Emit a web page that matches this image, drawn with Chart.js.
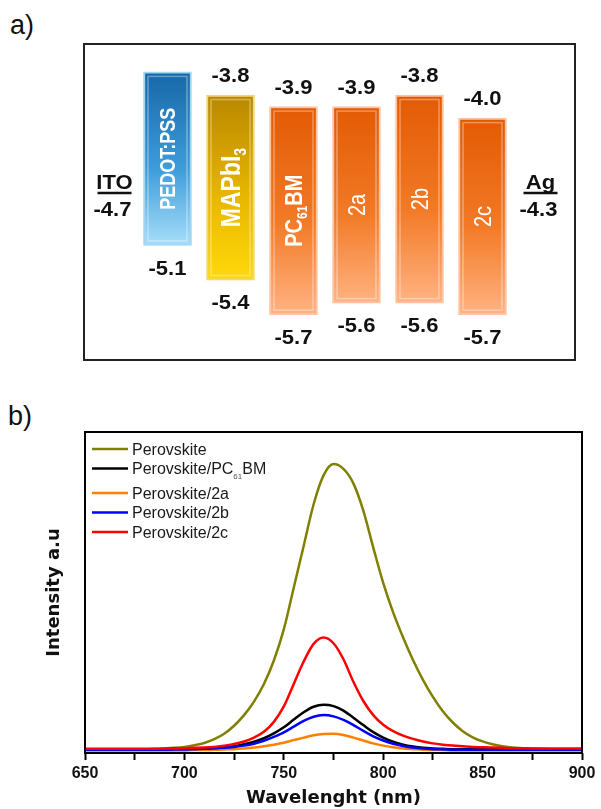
<!DOCTYPE html>
<html>
<head>
<meta charset="utf-8">
<script src="https://cdn.jsdelivr.net/npm/chart.js@4.4.1/dist/chart.umd.min.js"></script>
<style>
  html, body { margin: 0; padding: 0; background: #fff; width: 601px; height: 809px; overflow: hidden;
               font-family: "Liberation Sans", Arial, sans-serif; }
  .tag   { position: absolute; font-size: 27px; color: #111; line-height: 1; }
  #tagA  { left: 10px; top: 12px; }
  #tagB  { left: 8px;  top: 403px; }
  #boxA  { position: absolute; left: 83px; top: 43px; width: 493px; height: 318px;
           border: 2.5px solid #222; box-sizing: border-box; }
  #levels { position: absolute; left: 73px; top: 43px; }
  #pl     { position: absolute; left: 0; top: 425px; }
</style>
</head>
<body>
<div class="tag" id="tagA">a)</div>
<div id="boxA"></div>
<canvas id="levels" width="504" height="318"></canvas>
<div class="tag" id="tagB">b)</div>
<canvas id="pl" width="601" height="384"></canvas>

<script>
// ═══════════════════════════════════════════════════════
// DATA — panel a: energy levels (eV)
// ═══════════════════════════════════════════════════════
const layers      = ['ITO', 'PEDOT:PSS', 'MAPbI_{3}', 'PC_{61}BM', '2a', '2b', '2c', 'Ag'];
const levelTop    = [null, -3.6, -3.8, -3.9, -3.9, -3.8, -4.0, null];
const levelBottom = [null, -5.1, -5.4, -5.7, -5.6, -5.6, -5.7, null];
const showTop     = [false, false, true, true, true, true, true, false];  // PEDOT:PSS top is not labelled
const workFn      = [-4.7, null, null, null, null, null, null, -4.3];

// ═══════════════════════════════════════════════════════
// DATA — panel b: PL spectra
// ═══════════════════════════════════════════════════════
const wavelength = [650, 655, 660, 665, 670, 675, 680, 685, 690, 695, 700, 705, 710, 715, 720, 725, 730,
  735, 740, 745, 750, 755, 760, 765, 770, 775, 780, 785, 790, 795, 800, 805, 810, 815, 820, 825, 830,
  835, 840, 845, 850, 855, 860, 865, 870, 875, 880, 885, 890, 895, 900];

const perovskite = [0.012, 0.012, 0.012, 0.012, 0.012, 0.012, 0.012, 0.013, 0.014, 0.016, 0.019, 0.024,
  0.031, 0.043, 0.060, 0.085, 0.118, 0.160, 0.215, 0.288, 0.385, 0.515, 0.645, 0.775, 0.865, 0.900,
  0.885, 0.840, 0.755, 0.640, 0.530, 0.438, 0.360, 0.290, 0.228, 0.175, 0.130, 0.095, 0.068, 0.049,
  0.036, 0.027, 0.021, 0.017, 0.015, 0.014, 0.013, 0.012, 0.012, 0.012, 0.012];

const withPCBM = [0.012, 0.012, 0.012, 0.012, 0.012, 0.012, 0.012, 0.012, 0.012, 0.013, 0.013, 0.014,
  0.015, 0.016, 0.018, 0.021, 0.027, 0.035, 0.046, 0.061, 0.080, 0.104, 0.127, 0.144, 0.150, 0.146,
  0.132, 0.110, 0.087, 0.065, 0.048, 0.035, 0.026, 0.020, 0.016, 0.014, 0.013, 0.012, 0.012, 0.012,
  0.012, 0.012, 0.012, 0.012, 0.012, 0.012, 0.012, 0.012, 0.012, 0.012, 0.012];

const with2a = [0.008, 0.008, 0.008, 0.008, 0.008, 0.008, 0.008, 0.008, 0.008, 0.008, 0.008, 0.009,
  0.009, 0.010, 0.011, 0.012, 0.014, 0.017, 0.021, 0.026, 0.032, 0.040, 0.048, 0.055, 0.059, 0.060,
  0.056, 0.048, 0.039, 0.030, 0.023, 0.018, 0.014, 0.012, 0.010, 0.009, 0.009, 0.008, 0.008, 0.008,
  0.008, 0.008, 0.008, 0.008, 0.008, 0.008, 0.008, 0.008, 0.008, 0.008, 0.008];

const with2b = [0.010, 0.010, 0.010, 0.010, 0.010, 0.010, 0.010, 0.010, 0.010, 0.011, 0.011, 0.012,
  0.013, 0.014, 0.016, 0.019, 0.023, 0.029, 0.038, 0.050, 0.064, 0.082, 0.100, 0.113, 0.118, 0.114,
  0.103, 0.087, 0.069, 0.052, 0.039, 0.029, 0.022, 0.017, 0.014, 0.012, 0.011, 0.010, 0.010, 0.010,
  0.010, 0.010, 0.010, 0.010, 0.010, 0.010, 0.010, 0.010, 0.010, 0.010, 0.010];

const with2c = [0.013, 0.013, 0.013, 0.013, 0.013, 0.013, 0.013, 0.013, 0.014, 0.014, 0.015, 0.016,
  0.017, 0.019, 0.023, 0.028, 0.036, 0.048, 0.066, 0.097, 0.145, 0.215, 0.285, 0.340, 0.360, 0.342,
  0.292, 0.222, 0.162, 0.118, 0.088, 0.068, 0.054, 0.044, 0.036, 0.030, 0.026, 0.023, 0.021, 0.019,
  0.018, 0.017, 0.016, 0.015, 0.015, 0.014, 0.014, 0.014, 0.014, 0.014, 0.014];

const seriesNames  = ['Perovskite', 'Perovskite/PC_{61}BM', 'Perovskite/2a', 'Perovskite/2b', 'Perovskite/2c'];
const seriesValues = [perovskite, withPCBM, with2a, with2b, with2c];
const xTicks       = [650, 700, 750, 800, 850, 900];
const xMinorTicks  = [675, 725, 775, 825, 875];

// ═══════════════════════════════════════════════════════
// STYLE
// ═══════════════════════════════════════════════════════
const FONT     = '"Liberation Sans", Arial, sans-serif';
const barTop   = [null, '#1767a8', '#b88800', '#e35a04', '#e35a04', '#e35a04', '#e35a04', null];
const barMid   = [null, '#3d9bd9', '#e8b600', '#f27a26', '#f27a26', '#f27a26', '#f27a26', null];
const barBot   = [null, '#a8def8', '#ffd90c', '#ffb384', '#ffb384', '#ffb384', '#ffb384', null];
const barEdge  = [null, '#9fd6f2', '#f3d774', '#ffc3a0', '#ffc3a0', '#ffc3a0', '#ffc3a0', null];
const nameSize = [0, 18, 23, 20, 20, 20, 20, 0];
const nameBold = [false, true, true, true, false, false, false, false];
const seriesColors = ['#808000', '#000000', '#ff8000', '#0000ff', '#ff0000'];
const drawOrder    = [4, 3, 2, 1, 0];   // lower = painted later (on top)

// ═══════════════════════════════════════════════════════
// RICH TEXT (subscripts written as _{..})
// ═══════════════════════════════════════════════════════
function parseRich(s) {
  const out = [], re = /_\{([^}]*)\}/g;
  let last = 0, m;
  while ((m = re.exec(s))) {
    if (m.index > last) out.push({ t: s.slice(last, m.index), sub: false });
    out.push({ t: m[1], sub: true });
    last = re.lastIndex;
  }
  if (last < s.length) out.push({ t: s.slice(last), sub: false });
  return out;
}

function fontStr(f, sub) {
  const size = sub ? Math.round(f.size * f.subScale) : f.size;
  return `${f.bold ? 'bold ' : ''}${size}px ${f.family}`;
}

function drawRich(ctx, text, x, baseY, f, align) {
  const parts = parseRich(text);
  let w = 0;
  parts.forEach(p => { ctx.font = fontStr(f, p.sub); w += ctx.measureText(p.t).width; });
  let cx = align === 'center' ? x - w / 2 : x;
  ctx.textAlign = 'left';
  ctx.textBaseline = 'alphabetic';
  parts.forEach(p => {
    ctx.font = fontStr(f, p.sub);
    ctx.fillStyle = p.sub && f.subColor ? f.subColor : f.color;
    ctx.fillText(p.t, cx, baseY + (p.sub ? f.subDrop : 0));
    cx += ctx.measureText(p.t).width;
  });
}

// text centred on (x, y) by cap height, stretched horizontally by sx
function capText(ctx, txt, x, y, size, bold, sx) {
  ctx.save();
  ctx.translate(x, y);
  ctx.scale(sx, 1);
  ctx.font = `${bold ? 'bold ' : ''}${size}px ${FONT}`;
  ctx.textAlign = 'center';
  ctx.textBaseline = 'alphabetic';
  ctx.fillStyle = '#111';
  ctx.fillText(txt, 0, size * 0.358);
  ctx.restore();
}

// ═══════════════════════════════════════════════════════
// PANEL A — floating bars
// ═══════════════════════════════════════════════════════
function barGradient(c) {
  const i = c.dataIndex, chart = c.chart;
  if (levelTop[i] == null) return 'rgba(0,0,0,0)';
  if (!chart.chartArea) return barMid[i];
  const ys = chart.scales.y;
  const g = chart.ctx.createLinearGradient(0, ys.getPixelForValue(levelTop[i]), 0, ys.getPixelForValue(levelBottom[i]));
  g.addColorStop(0, barTop[i]);
  g.addColorStop(0.55, barMid[i]);
  g.addColorStop(1, barBot[i]);
  return g;
}

const levelLabels = {
  id: 'levelLabels',
  afterDatasetsDraw(chart) {
    const ctx = chart.ctx, ys = chart.scales.y, xs = chart.scales.x;
    const area = chart.chartArea;
    const bars = chart.getDatasetMeta(0).data;
    ctx.save();
    layers.forEach((name, i) => {
      const cx = xs.getPixelForValue(i);

      // electrodes: name over a rule, work function below
      if (workFn[i] != null) {
        const ex = cx + (i === 0 ? 10 : -5);
        const ly = area.top + area.height * 0.472;
        capText(ctx, name, ex, ly - 11, 20, true, 1.1);
        ctx.strokeStyle = '#111';
        ctx.lineWidth = 2.5;
        ctx.beginPath();
        ctx.moveTo(ex - 17, ly);
        ctx.lineTo(ex + 17, ly);
        ctx.stroke();
        capText(ctx, workFn[i].toFixed(1), ex - 2, ly + 16, 20, true, 1.1);
        return;
      }
      if (levelTop[i] == null) return;

      const top = ys.getPixelForValue(levelTop[i]);
      const bot = ys.getPixelForValue(levelBottom[i]);
      const half = bars[i].width / 2;

      // bevel highlight
      ctx.strokeStyle = 'rgba(255,255,255,0.35)';
      ctx.lineWidth = 1.5;
      ctx.strokeRect(cx - half + 4.5, top + 4.5, 2 * half - 9, bot - top - 9);

      // rotated layer name
      ctx.save();
      ctx.translate(cx, (top + bot) / 2);
      ctx.scale(1.2, 1);
      ctx.rotate(-Math.PI / 2);
      drawRich(ctx, name, 0, nameSize[i] * 0.358, {
        size: nameSize[i], bold: nameBold[i], family: FONT, color: '#fff',
        subScale: 0.62, subDrop: nameSize[i] * 0.22,
      }, 'center');
      ctx.restore();

      // level values
      if (showTop[i]) capText(ctx, levelTop[i].toFixed(1), cx, top - 20, 20, true, 1.1);
      capText(ctx, levelBottom[i].toFixed(1), cx, bot + 22, 20, true, 1.1);
    });
    ctx.restore();
  },
};

new Chart(document.getElementById('levels'), {
  type: 'bar',
  data: {
    labels: layers,
    datasets: [{
      data: layers.map((_, i) => levelTop[i] == null ? null : [levelBottom[i], levelTop[i]]),
      backgroundColor: barGradient,
      borderColor: barEdge,
      borderWidth: 2,
      borderSkipped: false,
      barThickness: 48,
    }],
  },
  options: {
    responsive: false,
    animation: false,
    layout: { padding: 0 },
    plugins: { legend: { display: false }, tooltip: { enabled: false } },
    scales: {
      x: { type: 'category', display: false, offset: true },
      y: { display: false, min: -6.1, max: -3.35 },
    },
  },
  plugins: [levelLabels],
});

// ═══════════════════════════════════════════════════════
// PANEL B — PL spectra
// ═══════════════════════════════════════════════════════
const frameAndLegend = {
  id: 'frameAndLegend',
  afterDatasetsDraw(chart) {
    const ctx = chart.ctx, a = chart.chartArea;
    ctx.save();
    ctx.strokeStyle = '#000';
    ctx.lineWidth = 2;
    ctx.strokeRect(a.left, a.top, a.right - a.left, a.bottom - a.top);

    seriesNames.forEach((name, k) => {
      const y = a.top + 17 + k * 19.5 + (k >= 2 ? 5 : 0);
      ctx.strokeStyle = seriesColors[k];
      ctx.lineWidth = 2.5;
      ctx.beginPath();
      ctx.moveTo(a.left + 7, y);
      ctx.lineTo(a.left + 43, y);
      ctx.stroke();
      drawRich(ctx, name, a.left + 47, y + 16 * 0.358, {
        size: 16, bold: false, family: FONT, color: '#1a1a1a',
        subScale: 0.5, subDrop: 5, subColor: '#555',
      }, 'left');
    });
    ctx.restore();
  },
};

new Chart(document.getElementById('pl'), {
  type: 'line',
  data: {
    datasets: seriesNames.map((name, k) => ({
      label: name,
      data: wavelength.map((w, i) => ({ x: w, y: seriesValues[k][i] })),
      borderColor: seriesColors[k],
      borderWidth: 2.5,
      pointRadius: 0,
      fill: false,
      cubicInterpolationMode: 'monotone',
      order: drawOrder[k],
    })),
  },
  options: {
    responsive: false,
    animation: false,
    layout: { padding: { top: 7, right: 19, left: 0, bottom: 0 } },
    plugins: { legend: { display: false }, tooltip: { enabled: false } },
    scales: {
      x: {
        type: 'linear', min: 650, max: 900,
        afterFit: s => { s.height = 56; },
        afterBuildTicks: s => {
          s.ticks = xTicks.concat(xMinorTicks).sort((p, q) => p - q).map(v => ({ value: v }));
        },
        ticks: {
          autoSkip: false, maxRotation: 0, padding: 4, color: '#111',
          font: { family: FONT, weight: 'bold', size: 16 },
          callback: v => xTicks.includes(v) ? String(v) : '',
        },
        grid: { drawOnChartArea: false, tickLength: 7, tickWidth: 2, tickColor: '#000' },
        border: { display: false },
        title: {
          display: true, text: 'Wavelenght (nm)', color: '#111',
          font: { family: '"DejaVu Sans"', weight: 'bold', size: 18 },
          padding: { top: 0, bottom: 0 },
        },
      },
      y: {
        min: 0, max: 1,
        afterFit: s => { s.width = 85; },
        ticks: { display: false },
        grid: { display: false },
        border: { display: false },
        title: {
          display: true, text: 'Intensity a.u', color: '#111',
          font: { family: '"DejaVu Sans"', weight: 'bold', size: 18 },
          padding: { top: 44, bottom: 0 },
        },
      },
    },
  },
  plugins: [frameAndLegend],
});
</script>
</body>
</html>
